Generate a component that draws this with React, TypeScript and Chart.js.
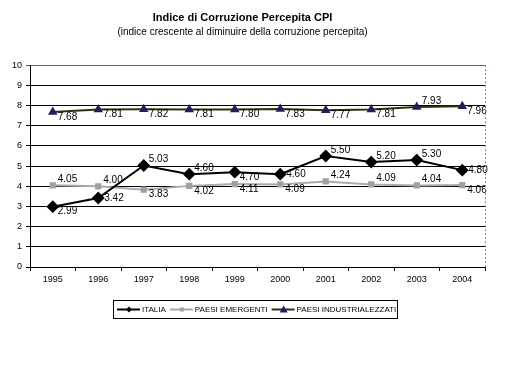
import React, { useEffect, useRef } from "react";
import { Chart, registerables } from "chart.js";

Chart.register(...registerables);

const years = ["1995", "1996", "1997", "1998", "1999", "2000", "2001", "2002", "2003", "2004"];
const italia = [2.99, 3.42, 5.03, 4.6, 4.7, 4.6, 5.5, 5.2, 5.3, 4.8];
const emergenti = [4.05, 4.0, 3.83, 4.02, 4.11, 4.09, 4.24, 4.09, 4.04, 4.06];
const industrializzati = [7.68, 7.81, 7.82, 7.81, 7.8, 7.83, 7.77, 7.81, 7.93, 7.96];
const seriesNames = ["ITALIA", "PAESI EMERGENTI", "PAESI INDUSTRIALEZZATI"];
const yTicks = [0, 1, 2, 3, 4, 5, 6, 7, 8, 9, 10];

// label placement relative to point: a = above-right, b = below-right, r = right
const italiaLabelPos = ["b", "r", "a", "a", "b", "r", "a", "a", "a", "r"];
const emergentiLabelPos = ["a", "a", "b", "b", "b", "b", "a", "a", "a", "b"];
const industrialLabelPos = ["b", "b", "b", "b", "b", "b", "b", "b", "a", "b"];

const FONT = "'Liberation Sans', Arial, sans-serif";

const labelsPlugin = {
  id: "pointLabels",
  afterDatasetsDraw(chart: any) {
    const ctx = chart.ctx;
    const posArrays = [italiaLabelPos, emergentiLabelPos, industrialLabelPos];
    ctx.save();
    ctx.font = `10px ${FONT}`;
    ctx.fillStyle = "#000";
    ctx.textBaseline = "middle";
    ctx.textAlign = "left";
    chart.data.datasets.forEach((ds: any, di: number) => {
      const meta = chart.getDatasetMeta(di);
      meta.data.forEach((pt: any, i: number) => {
        const v = ds.data[i] as number;
        const p = posArrays[di][i];
        let dx = 6, dy = 0;
        if (p === "a") { dy = -6; dx = 5; }
        if (p === "b") { dy = 5; dx = 5; }
        ctx.fillText(v.toFixed(2), pt.x + dx, pt.y + dy);
      });
    });
    ctx.restore();
  },
};

const framePlugin = {
  id: "frameAndLegend",
  afterDraw(chart: any) {
    const ctx = chart.ctx;
    const a = chart.chartArea;
    ctx.save();
    // right dashed border
    ctx.strokeStyle = "#888";
    ctx.lineWidth = 1;
    ctx.setLineDash([2, 2]);
    ctx.beginPath();
    ctx.moveTo(Math.round(a.right) + 0.5, a.top);
    ctx.lineTo(Math.round(a.right) + 0.5, a.bottom);
    ctx.stroke();
    ctx.setLineDash([]);

    // legend
    const lx = 113, ly = 300, lw = 284, lh = 18;
    ctx.strokeStyle = "#000";
    ctx.lineWidth = 1;
    ctx.strokeRect(lx + 0.5, ly + 0.5, lw, lh);
    ctx.font = `8px ${FONT}`;
    ctx.textBaseline = "middle";
    ctx.textAlign = "left";
    const cy = ly + lh / 2 + 0.5;
    let x = lx + 4;
    chart.data.datasets.forEach((ds: any) => {
      ctx.strokeStyle = ds.borderColor;
      ctx.lineWidth = 2;
      ctx.beginPath();
      ctx.moveTo(x, cy);
      ctx.lineTo(x + 23, cy);
      ctx.stroke();
      ctx.fillStyle = ds.pointBackgroundColor;
      const mx = x + 12;
      ctx.beginPath();
      if (ds.pointStyle === "rectRot") {
        ctx.moveTo(mx, cy - 3); ctx.lineTo(mx + 3, cy); ctx.lineTo(mx, cy + 3); ctx.lineTo(mx - 3, cy);
      } else if (ds.pointStyle === "rect") {
        ctx.rect(mx - 2, cy - 2, 4, 4);
      } else {
        ctx.moveTo(mx, cy - 4); ctx.lineTo(mx + 4, cy + 3); ctx.lineTo(mx - 4, cy + 3);
      }
      ctx.closePath();
      ctx.fill();
      ctx.fillStyle = "#000";
      ctx.fillText(ds.label, x + 25, cy);
      x += 25 + ctx.measureText(ds.label).width + 4;
    });
    ctx.restore();
  },
};

export default function App() {
  const ref = useRef<HTMLCanvasElement>(null);
  useEffect(() => {
    if (!ref.current) return;
    const chart = new Chart(ref.current, {
      type: "line",
      data: {
        labels: years,
        datasets: [
          {
            label: seriesNames[0],
            data: italia,
            borderColor: "#000000",
            backgroundColor: "#000000",
            pointBackgroundColor: "#000000",
            pointBorderColor: "#000000",
            pointStyle: "rectRot",
            pointRadius: 5,
            borderWidth: 2,
            tension: 0,
          },
          {
            label: seriesNames[1],
            data: emergenti,
            borderColor: "#a9a9b9",
            backgroundColor: "#a0a0a0",
            pointBackgroundColor: "#a0a0a0",
            pointBorderColor: "#a0a0a0",
            pointStyle: "rect",
            pointRadius: 3,
            borderWidth: 2,
            tension: 0,
          },
          {
            label: seriesNames[2],
            data: industrializzati,
            borderColor: "#30300c",
            backgroundColor: "#1f1f5f",
            pointBackgroundColor: "#1f1f5f",
            pointBorderColor: "#1f1f5f",
            pointStyle: "triangle",
            pointRadius: 3.5,
            borderWidth: 2,
            tension: 0,
          },
        ],
      },
      options: {
        animation: false,
        responsive: false,
        layout: { padding: { left: 0, right: 27, top: 0, bottom: 97 } },
        plugins: {
          legend: { display: false },
          tooltip: { enabled: false },
          title: {
            display: true,
            text: "Indice di Corruzione Percepita CPI",
            color: "#000",
            font: { family: FONT, size: 11, weight: "bold" },
            padding: { top: 11, bottom: 2 },
          },
          subtitle: {
            display: true,
            text: "(indice crescente al diminuire della corruzione percepita)",
            color: "#000",
            font: { family: FONT, size: 10, weight: "normal" },
            padding: { top: 0, bottom: 27 },
          },
        },
        scales: {
          x: {
            type: "category",
            offset: true,
            grid: {
              offset: true,
              drawOnChartArea: false,
              drawTicks: true,
              tickLength: 4,
              color: "#000",
            },
            border: { color: "#000", width: 1 },
            ticks: {
              color: "#000",
              font: { family: FONT, size: 9 },
              padding: 3,
              maxRotation: 0,
            },
            afterFit: (s: any) => { s.height = 20; },
          },
          y: {
            min: 0,
            max: 10,
            afterBuildTicks: (s: any) => { s.ticks = yTicks.map((v) => ({ value: v })); },
            grid: {
              color: (c: any) => (c.tick && c.tick.value === 10 ? "#66664a" : "#000"),
              tickLength: 4,
              drawTicks: true,
            },
            border: { color: "#000", width: 1 },
            ticks: {
              color: "#000",
              font: { family: FONT, size: 9 },
              padding: 4,
            },
            afterFit: (s: any) => { s.width = 30; },
          },
        },
      },
      plugins: [labelsPlugin, framePlugin],
    });
    return () => chart.destroy();
  }, []);
  return (
    <div style={{ position: "fixed", left: 0, top: 0, width: 512, height: 384, background: "#fff" }}>
      <canvas ref={ref} width={512} height={384} style={{ width: 512, height: 384 }} />
    </div>
  );
}
